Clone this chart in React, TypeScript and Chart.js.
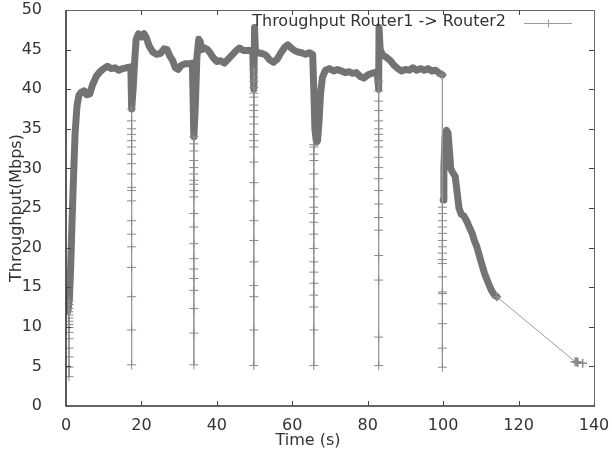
import React, { useEffect, useRef } from "react";
import { Chart, registerables } from "chart.js";

Chart.register(...registerables);

// ---- labels ----
const seriesLabel = "Throughput Router1 -> Router2";
const xTitle = "Time (s)";
const yTitle = "Throughput(Mbps)";

// ---- dense (thick) part of the trace, first run (0 – 100 s) ----
const bandTime1 = [
  0.5, 0.9, 1.2, 1.5, 1.9, 2.4, 2.9, 3.4, 4.0, 4.8, 5.5, 6.3, 7.0, 8.0, 9.0, 10.0, 11.0, 12.0, 13.0, 14.0,
  15.0, 16.0, 17.2, 17.4, 17.8, 18.2, 18.6, 19.2, 20.0, 20.7, 21.3, 22.0, 23.0, 24.0, 25.0, 26.0, 26.8, 27.5,
  28.3, 29.0, 29.8, 30.5, 31.5, 32.5, 33.5, 33.9, 34.3, 34.7, 35.2, 35.6, 36.0, 36.8, 37.5, 38.2, 39.0, 40.0,
  41.0, 42.0, 43.0, 44.0, 45.0, 46.0, 47.0, 48.0, 49.5, 49.8, 50.0, 50.2, 50.8, 52.0, 53.0, 54.0, 55.0, 56.0,
  57.0, 58.0, 58.8, 59.5, 60.5, 61.5, 62.5, 63.5, 64.5, 65.4, 65.7, 66.0, 66.4, 66.7, 67.1, 67.5, 68.0, 68.8,
  69.8, 71.0, 72.0, 73.0, 74.0, 75.0, 76.0, 77.0, 78.0, 79.0, 80.0, 81.0, 82.5, 82.9, 83.0, 83.3, 84.0, 85.0,
  86.0, 87.0, 88.0, 89.0, 90.0, 91.0, 92.0, 93.0, 94.0, 95.0, 96.0, 97.0, 98.0, 99.0, 99.8,
];
const bandThroughput1 = [
  12.0, 13.5, 17.0, 21.7, 27.6, 34.3, 37.8, 39.2, 39.6, 39.8, 39.3, 39.4, 40.5, 41.6, 42.2, 42.6, 42.9, 42.6, 42.7, 42.4,
  42.6, 42.7, 42.8, 37.5, 40.0, 43.5, 46.3, 47.0, 46.6, 47.0, 46.5, 45.5, 44.7, 44.4, 44.5, 45.1, 45.0, 44.2,
  43.6, 42.7, 42.5, 43.0, 43.2, 43.2, 43.3, 34.0, 38.0, 44.0, 46.3, 46.0, 45.0, 45.2, 45.0, 44.6, 44.0, 43.5,
  43.6, 43.3, 43.8, 44.3, 44.8, 45.2, 44.9, 44.9, 44.9, 40.0, 47.8, 45.0, 44.6, 44.5, 44.3, 43.7, 43.4, 43.8,
  44.6, 45.3, 45.6, 45.3, 44.9, 44.7, 44.6, 44.4, 44.6, 44.4, 40.0, 35.0, 33.3, 33.5, 36.0, 39.5, 41.5, 42.4,
  42.6, 42.3, 42.5, 42.3, 42.1, 42.2, 42.0, 42.1, 41.6, 41.4, 41.8, 42.0, 42.2, 40.0, 47.8, 45.0, 44.3, 44.0,
  43.6, 43.0, 42.6, 42.3, 42.5, 42.4, 42.7, 42.4, 42.6, 42.4, 42.6, 42.3, 42.4, 42.0, 41.8,
];

// ---- dense part, second run (100 – 114 s) ----
const bandTime2 = [
  100.0, 100.2, 100.5, 100.9, 101.3, 101.7, 102.0, 102.5, 103.2, 103.7, 104.2, 104.8, 105.5, 106.3, 107.0,
  107.7, 108.2, 109.0, 110.0, 111.0, 112.0, 112.8, 113.6, 114.2,
];
const bandThroughput2 = [
  26.0, 30.0, 34.0, 34.8, 34.5, 32.0, 30.0, 29.5, 29.0, 27.0, 25.0, 24.2, 24.0, 23.3, 22.5,
  21.8, 21.0, 20.0, 18.3, 16.7, 15.5, 14.6, 14.0, 13.8,
];

// ---- sparse drops (thin line with + marks) ----
const spikeTimes = [0.8, 17.4, 33.9, 49.8, 65.7, 82.9, 99.8];
const spikeThroughput = [
  [13.3, 12.8, 12.3, 11.9, 11.5, 11.1, 10.7, 10.3, 9.9, 9.3, 8.5, 7.3, 6.2, 4.9, 3.7],
  [37.5, 36.0, 35.0, 34.3, 33.5, 32.7, 31.8, 30.6, 29.3, 27.6, 27.2, 25.9, 23.4, 21.7, 20.1, 17.5, 13.8, 9.6, 5.2],
  [34.0, 33.1, 32.2, 31.0, 30.1, 29.3, 28.5, 28.0, 27.2, 26.4, 24.3, 22.6, 20.5, 18.6, 17.3, 16.1, 14.6, 12.3, 9.2, 5.2],
  [42.5, 41.5, 41.0, 40.2, 39.5, 39.0, 38.0, 37.3, 36.5, 35.6, 34.3, 33.5, 32.7, 30.8, 28.2, 25.9, 23.4, 20.9, 18.2, 15.2, 13.8, 9.6, 5.1],
  [33.0, 32.7, 31.8, 31.0, 29.3, 27.4, 26.4, 25.1, 24.3, 23.2, 21.7, 19.9, 18.2, 16.9, 15.5, 14.0, 12.5, 9.6, 5.1],
  [41.0, 39.8, 38.5, 37.3, 36.0, 35.0, 34.3, 33.5, 32.7, 31.4, 30.1, 28.7, 27.2, 25.5, 23.8, 22.2, 19.0, 15.9, 8.7, 5.1],
  [41.8, 25.1, 24.3, 23.4, 22.6, 21.8, 20.9, 20.1, 19.3, 18.5, 18.0, 16.3, 14.4, 14.2, 12.9, 10.4, 7.3, 4.9],
];

// ---- tail after the dense part ----
const tailTime = [114.2, 135.0, 135.4, 135.7, 137.0];
const tailThroughput = [13.8, 5.6, 5.6, 5.5, 5.4];

// ---- axes ----
const xMin = 0, xMax = 140, xStep = 20;
const yMin = 0, yMax = 50, yStep = 5;

const FONT = '"DejaVu Sans", sans-serif';
const TEXT = "#333333";
const BAND = "#737373";
const THIN = "#9a9a9a";
const MARK = "#8a8a8a";

const framePlugin = {
  id: "gnuplotFrame",
  afterDatasetsDraw(chart: any) {
    const ctx = chart.ctx;
    const { left, right, top, bottom } = chart.chartArea;
    ctx.save();
    // border
    ctx.strokeStyle = "#666";
    ctx.lineWidth = 1;
    ctx.beginPath();
    ctx.moveTo(left, top + 0.5);
    ctx.lineTo(right + 0.5, top + 0.5);
    ctx.lineTo(right + 0.5, bottom);
    ctx.stroke();
    ctx.strokeStyle = "#333";
    ctx.lineWidth = 1.6;
    ctx.beginPath();
    ctx.moveTo(left, top);
    ctx.lineTo(left, bottom);
    ctx.lineTo(right + 1, bottom);
    ctx.stroke();
    // inward ticks (mirrored)
    ctx.strokeStyle = "#444";
    ctx.lineWidth = 1;
    const tl = 5;
    const xs = chart.scales.x;
    const ys = chart.scales.y;
    ctx.beginPath();
    xs.ticks.forEach((t: any) => {
      if (t.value === xMin || t.value === xMax) return;
      const px = Math.round(xs.getPixelForValue(t.value)) + 0.5;
      ctx.moveTo(px, bottom);
      ctx.lineTo(px, bottom - tl);
      ctx.moveTo(px, top);
      ctx.lineTo(px, top + tl);
    });
    ys.ticks.forEach((t: any) => {
      if (t.value === yMin || t.value === yMax) return;
      const py = Math.round(ys.getPixelForValue(t.value)) + 0.5;
      ctx.moveTo(left, py);
      ctx.lineTo(left + tl, py);
      ctx.moveTo(right, py);
      ctx.lineTo(right - tl, py);
    });
    ctx.stroke();
    ctx.restore();
  },
  afterDraw(chart: any) {
    const ctx = chart.ctx;
    const { left, right, top, bottom } = chart.chartArea;
    ctx.save();
    ctx.font = `16px ${FONT}`;
    ctx.fillStyle = TEXT;
    // x title
    ctx.textAlign = "center";
    ctx.textBaseline = "middle";
    ctx.fillText(xTitle, (left + right) / 2 - 22, bottom + 35);
    // y title
    ctx.save();
    ctx.translate(17, (top + bottom) / 2);
    ctx.rotate(-Math.PI / 2);
    ctx.fillText(yTitle, 0, 0);
    ctx.restore();
    // legend
    ctx.textAlign = "right";
    ctx.fillText(seriesLabel, right - 88, top + 12);
    const ly = Math.round(top + 13) + 0.5;
    const lx0 = right - 70, lx1 = right - 22;
    ctx.strokeStyle = THIN;
    ctx.lineWidth = 1;
    ctx.beginPath();
    ctx.moveTo(lx0, ly);
    ctx.lineTo(lx1, ly);
    const cx = Math.round((lx0 + lx1) / 2) + 0.5;
    ctx.moveTo(cx, ly - 4);
    ctx.lineTo(cx, ly + 4);
    ctx.stroke();
    ctx.restore();
  },
};

export default function App() {
  const ref = useRef<HTMLCanvasElement | null>(null);

  useEffect(() => {
    if (!ref.current) return;

    const band: any[] = [];
    bandTime1.forEach((t, i) => band.push({ x: t, y: bandThroughput1[i] }));
    band.push({ x: (bandTime1[bandTime1.length - 1] + bandTime2[0]) / 2, y: null });
    bandTime2.forEach((t, i) => band.push({ x: t, y: bandThroughput2[i] }));

    const spikes: any[] = [];
    spikeTimes.forEach((t, i) => {
      spikeThroughput[i].forEach((v) => spikes.push({ x: t, y: v }));
      spikes.push({ x: t, y: null });
    });

    const tail = tailTime.map((t, i) => ({ x: t, y: tailThroughput[i] }));

    const chart = new Chart(ref.current, {
      type: "line",
      data: {
        datasets: [
          {
            label: seriesLabel + " (thin)",
            data: spikes,
            borderColor: THIN,
            borderWidth: 1,
            pointStyle: "cross",
            pointRadius: 4.5,
            pointBorderColor: MARK,
            pointBorderWidth: 1,
            pointHoverRadius: 4.5,
            spanGaps: false,
            fill: false,
          },
          {
            label: seriesLabel + " (tail)",
            data: tail,
            borderColor: THIN,
            borderWidth: 1,
            pointStyle: "cross",
            pointRadius: 4.5,
            pointBorderColor: MARK,
            pointBorderWidth: 1.5,
            fill: false,
          },
          {
            label: seriesLabel,
            data: band,
            borderColor: BAND,
            borderWidth: 7,
            borderJoinStyle: "round",
            borderCapStyle: "round",
            pointRadius: 0,
            spanGaps: false,
            fill: false,
          },
        ],
      },
      options: {
        animation: false,
        responsive: false,
        maintainAspectRatio: false,
        layout: { padding: { top: 10, right: 18, bottom: 0, left: 0 } },
        plugins: { legend: { display: false }, tooltip: { enabled: false } },
        scales: {
          x: {
            type: "linear",
            min: xMin,
            max: xMax,
            grid: { display: false },
            border: { display: false },
            ticks: {
              stepSize: xStep,
              padding: 2,
              color: TEXT,
              font: { family: FONT, size: 16 },
              maxRotation: 0,
            },
            afterFit: (s: any) => {
              s.height = 49;
              s.paddingLeft = 0;
              s.paddingRight = 0;
            },
          },
          y: {
            type: "linear",
            min: yMin,
            max: yMax,
            grid: { display: false },
            border: { display: false },
            ticks: {
              stepSize: yStep,
              padding: 16,
              color: TEXT,
              font: { family: FONT, size: 16 },
            },
            afterFit: (s: any) => {
              s.width = 66;
              s.paddingTop = 0;
              s.paddingBottom = 0;
            },
          },
        },
      },
      plugins: [framePlugin],
    });

    return () => chart.destroy();
  }, []);

  return (
    <div style={{ position: "fixed", left: 0, top: 0, width: 612, height: 455, background: "#fff" }}>
      <canvas ref={ref} width={612} height={455} />
    </div>
  );
}
